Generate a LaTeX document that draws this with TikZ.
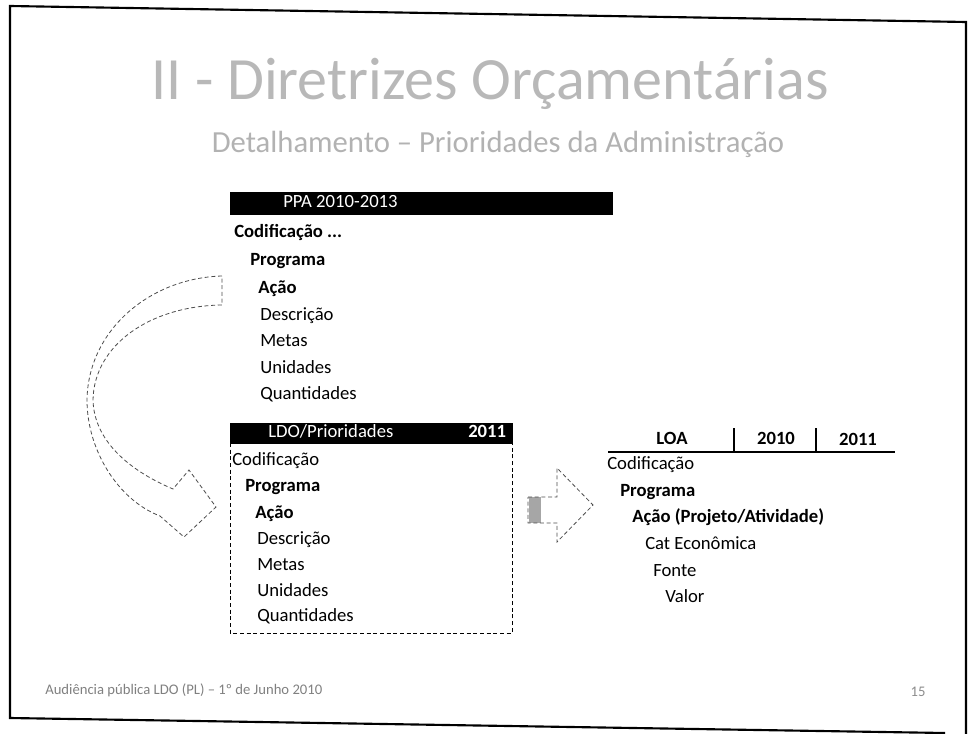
\documentclass[tikz,border=0pt]{standalone}
\usepackage{fontspec}
\setmainfont{Carlito}
\begin{document}
\begin{tikzpicture}[x=0.75pt,y=-0.75pt,
  item/.style={anchor=west,inner sep=0pt,text height=10pt,text depth=3pt,font=\fontsize{14}{16}\selectfont},
  bitem/.style={item,font=\fontsize{14}{16}\selectfont\bfseries},
  bar/.style={fill=black,draw=black,inner sep=0pt},
  bartext/.style={inner sep=0pt,text height=10pt,text depth=3pt,text=white,font=\fontsize{14}{16}\selectfont},
  outline/.style={draw=black!70,densely dashed,line width=0.6pt},
  frame/.style={line width=1.6pt,draw=black}]
\useasboundingbox (0,0) rectangle (970,734);
% slide frame
\draw[frame] (966,734) -- (966,22) -- (10,6) -- (10,718) -- (945,733);
% title
\node[inner sep=0pt,text=black!28,font=\fontsize{45}{50}\selectfont] (title) at (490,84) {II - Diretrizes Orçamentárias};
\node[inner sep=0pt,text=black!30,font=\fontsize{23}{26}\selectfont] (subtitle) at (498,144) {Detalhamento – Prioridades da Administração};
% PPA block
\node[bar,minimum width=286.5pt,minimum height=16.5pt] (ppabar) at (421,203) {};
\node[bartext,anchor=west] (ppah) at (283,203) {PPA 2010-2013};
\node[bitem] (p1) at (234,233) {Codificação ...};
\node[bitem] (p2) at (250,261) {Programa};
\node[bitem] (p3) at (258,289) {Ação};
\node[item] (p4) at (260,316) {Descrição};
\node[item] (p5) at (260,342) {Metas};
\node[item] (p6) at (260,369) {Unidades};
\node[item] (p7) at (260,395) {Quantidades};
% LDO block
\draw[outline,draw=black,line width=0.7pt] (230,443) -- (230,633) -- (512,633) -- (512,443);
\node[bar,minimum width=211.5pt,minimum height=15pt] (ldobar) at (371,433) {};
\node[bartext,anchor=west] (ldoh) at (268,433) {LDO/Prioridades};
\node[bartext,anchor=west,font=\fontsize{14}{16}\selectfont\bfseries] (ldoy) at (468,433) {2011};
\node[item] (l1) at (232,461) {Codificação};
\node[bitem] (l2) at (245,487) {Programa};
\node[bitem] (l3) at (255,514) {Ação};
\node[item] (l4) at (257,540) {Descrição};
\node[item] (l5) at (257,566) {Metas};
\node[item] (l6) at (257,592) {Unidades};
\node[item] (l7) at (257,617) {Quantidades};
% LOA block
\node[bitem,anchor=center] (loah) at (672,440) {LOA};
\node[bitem,anchor=center] (loa10) at (776,440) {2010};
\node[bitem,anchor=center] (loa11) at (858,441) {2011};
\coordinate (ls) at (608,452);
\coordinate (le) at (895,452);
\draw[line width=0.9pt] (ls) -- (le);
\draw[line width=0.9pt] (734,428) -- (734,452);
\draw[line width=0.9pt] (816,428) -- (816,452);
\node[item] (o1) at (607,465) {Codificação};
\node[bitem] (o2) at (620,492) {Programa};
\node[bitem] (o3) at (632,518) {Ação (Projeto/Atividade)};
\node[item] (o4) at (645,545) {Cat Econômica};
\node[item] (o5) at (653,572) {Fonte};
\node[item] (o6) at (665,598) {Valor};
% block arrow LDO -> LOA
\fill[black!35] (529,497) rectangle (541,523);
\draw[outline] (528,497) -- (557,497) -- (557,468) -- (593,505) -- (557,542) -- (557,523) -- (528,523) -- cycle;
% curved arrow PPA -> LDO
\draw[outline] (222,276) .. controls (150,278) and (88,330) .. (87,400)
  .. controls (87,450) and (118,500) .. (160,516)
  -- (184,537) -- (216,507) -- (189,470) -- (173,489)
  .. controls (128,470) and (94,440) .. (93,400)
  .. controls (94,345) and (150,306) .. (222,305) -- cycle;
% footer
\node[anchor=west,inner sep=0pt,text=black!50,font=\fontsize{11}{13}\selectfont] (foot) at (45,690) {Audiência pública LDO (PL) – 1º de Junho 2010};
\node[inner sep=0pt,text=black!45,font=\fontsize{11}{13}\selectfont] (pg) at (918,692) {15};
\end{tikzpicture}
\end{document}
